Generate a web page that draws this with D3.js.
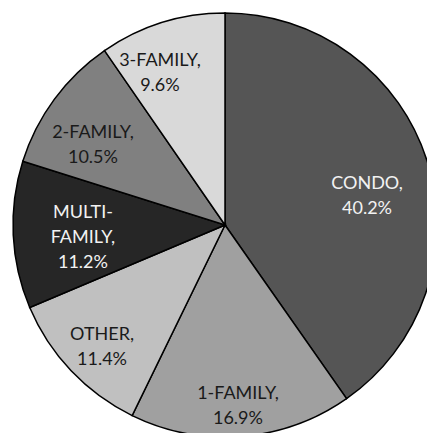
<!DOCTYPE html>
<html lang="en">
<script src="https://d3js.org/d3.v7.min.js"></script>
<style>
  body { margin: 0; background: #fff; }
  svg { display: block; }
  .slice { stroke: #000; stroke-width: 1.5; }
  .lbl { font-family: Lato, "Open Sans", sans-serif; font-size: 18px; text-anchor: middle; }
</style>
<body>
<svg id="chart" width="427" height="433"></svg>
<script>
  // housing types, clockwise from 12 o'clock
  var labels = ["CONDO", "1-FAMILY", "OTHER", "MULTI-FAMILY", "2-FAMILY", "3-FAMILY"];
  var shares = [40.2, 16.9, 11.4, 11.2, 10.5, 9.6];
  var fills = ["#555555", "#a0a0a0", "#c0c0c0", "#262626", "#808080", "#d9d9d9"];
  var textColors = ["#f2f2f2", "#1a1a1a", "#1a1a1a", "#f2f2f2", "#1a1a1a", "#1a1a1a"];
  // label centres, as fractions of the radius from the pie centre
  var labelXY = [[0.670, -0.142], [0.061, 0.849], [-0.580, 0.571],
                 [-0.670, 0.057], [-0.623, -0.382], [-0.307, -0.722]];

  var svg = d3.select("#chart");
  var cx = 225, cy = 225, r = 212;

  var pie = d3.pie().sort(null).value(function(d) { return d; });
  var arcs = pie(shares);
  var arc = d3.arc().innerRadius(0).outerRadius(r);

  var g = svg.append("g").attr("transform", "translate(" + cx + "," + cy + ")");

  g.selectAll("path")
    .data(arcs)
    .enter()
    .append("path")
    .attr("class", "slice")
    .attr("d", arc)
    .attr("fill", function(d, i) { return fills[i]; });

  g.selectAll("text")
    .data(arcs)
    .enter()
    .append("text")
    .attr("class", "lbl")
    .attr("fill", function(d, i) { return textColors[i]; })
    .each(function(d, i) {
      var x = labelXY[i][0] * r, y = labelXY[i][1] * r;
      var lines;
      if (labels[i] == "MULTI-FAMILY") lines = ["MULTI-", "FAMILY,", d.data.toFixed(1) + "%"];
      else lines = [labels[i] + ",", d.data.toFixed(1) + "%"];
      var lh = 25;
      var top = y - (lines.length - 1) * lh / 2;
      var t = d3.select(this);
      lines.forEach(function(s, k) {
        t.append("tspan")
          .attr("x", x)
          .attr("y", top + k * lh)
          .attr("dy", "0.35em")
          .text(s);
      });
    });
</script>
</body>
</html>
